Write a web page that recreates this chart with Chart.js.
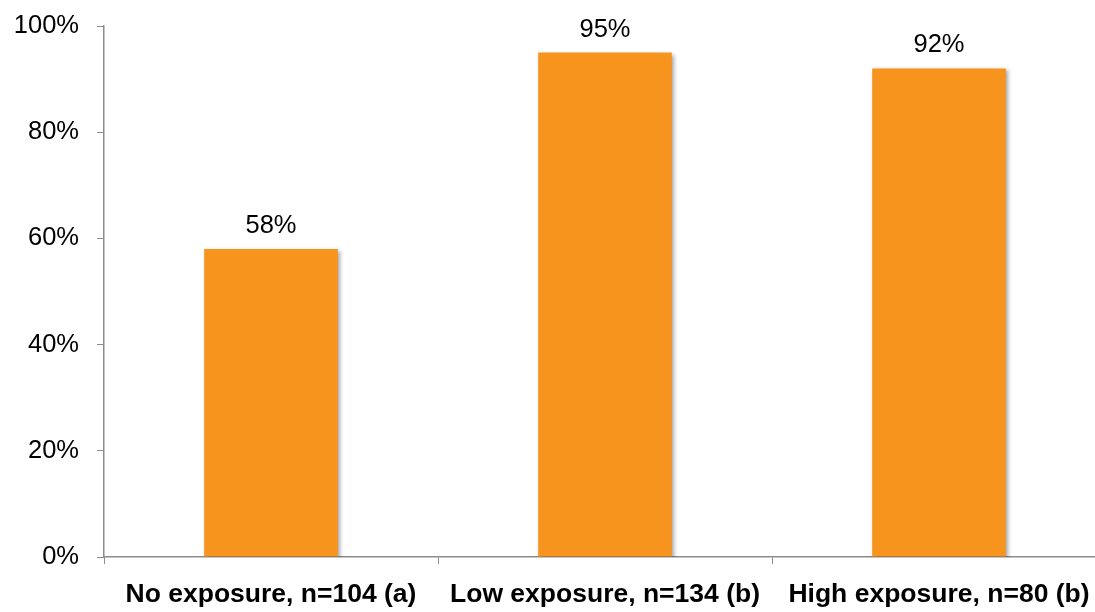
<!DOCTYPE html>
<html>
<head>
<meta charset="utf-8">
<script src="https://cdn.jsdelivr.net/npm/chart.js@4/dist/chart.umd.min.js"></script>
<style>
  html, body { margin: 0; padding: 0; background: #fff; overflow: hidden; }
  #wrap { width: 1110px; height: 612px; position: relative; }
</style>
</head>
<body>
<div id="wrap"><canvas id="c"></canvas></div>
<script>
// Share of respondents by exposure group
const categories = ['No exposure, n=104 (a)', 'Low exposure, n=134 (b)', 'High exposure, n=80 (b)'];
const values = [58, 95, 92];
const yTicks = [0, 20, 40, 60, 80, 100];

const FONT = '"Liberation Sans", Arial, sans-serif';
const AXIS_GRAY = '#8c8c8c';

// Soft drop shadow beneath the bars
const barShadow = {
  id: 'barShadow',
  beforeDatasetsDraw(chart) {
    const ctx = chart.ctx;
    ctx.save();
    ctx.shadowColor = 'rgba(0,0,0,0.35)';
    ctx.shadowBlur = 4;
    ctx.shadowOffsetX = 2;
    ctx.shadowOffsetY = 2;
  },
  afterDatasetsDraw(chart) {
    chart.ctx.restore();
  }
};

// Percent labels above each bar
const valueLabels = {
  id: 'valueLabels',
  afterDatasetsDraw(chart) {
    const ctx = chart.ctx;
    const meta = chart.getDatasetMeta(0);
    ctx.save();
    ctx.fillStyle = '#000';
    ctx.font = '25.5px ' + FONT;
    ctx.textAlign = 'center';
    ctx.textBaseline = 'alphabetic';
    meta.data.forEach((bar, i) => {
      ctx.fillText(values[i] + '%', bar.x, bar.y - 16);
    });
    ctx.restore();
  }
};

new Chart(document.getElementById('c'), {
  type: 'bar',
  data: {
    labels: categories,
    datasets: [{
      data: values,
      backgroundColor: '#F7941E',
      borderWidth: 0,
      categoryPercentage: 1.0,
      barPercentage: 0.4
    }]
  },
  options: {
    responsive: true,
    maintainAspectRatio: false,
    animation: false,
    layout: { padding: { top: 26, right: 4, left: 0, bottom: 0 } },
    plugins: { legend: { display: false }, tooltip: { enabled: false } },
    scales: {
      x: {
        grid: {
          display: true,
          drawOnChartArea: false,
          drawTicks: true,
          tickLength: 7,
          color: AXIS_GRAY,
          offset: true
        },
        border: { display: true, color: AXIS_GRAY, width: 1.5 },
        ticks: {
          color: '#000',
          font: { family: FONT, size: 26.5, weight: 'bold' },
          padding: 15,
          maxRotation: 0,
          autoSkip: false
        },
        afterFit(scale) {
          scale.height = 55;
          scale.paddingLeft = 0;
          scale.paddingRight = 0;
        }
      },
      y: {
        min: 0,
        max: 100,
        afterBuildTicks(scale) { scale.ticks = yTicks.map(v => ({ value: v })); },
        grid: {
          display: true,
          drawOnChartArea: false,
          drawTicks: true,
          tickLength: 7,
          color: AXIS_GRAY
        },
        border: { display: true, color: AXIS_GRAY, width: 1.5 },
        ticks: {
          color: '#000',
          font: { family: FONT, size: 25.5 },
          padding: 18,
          callback: v => v + '%'
        },
        afterFit(scale) {
          scale.width = 104;
          scale.paddingTop = 0;
          scale.paddingBottom = 0;
        }
      }
    }
  },
  plugins: [barShadow, valueLabels]
});
</script>
</body>
</html>
